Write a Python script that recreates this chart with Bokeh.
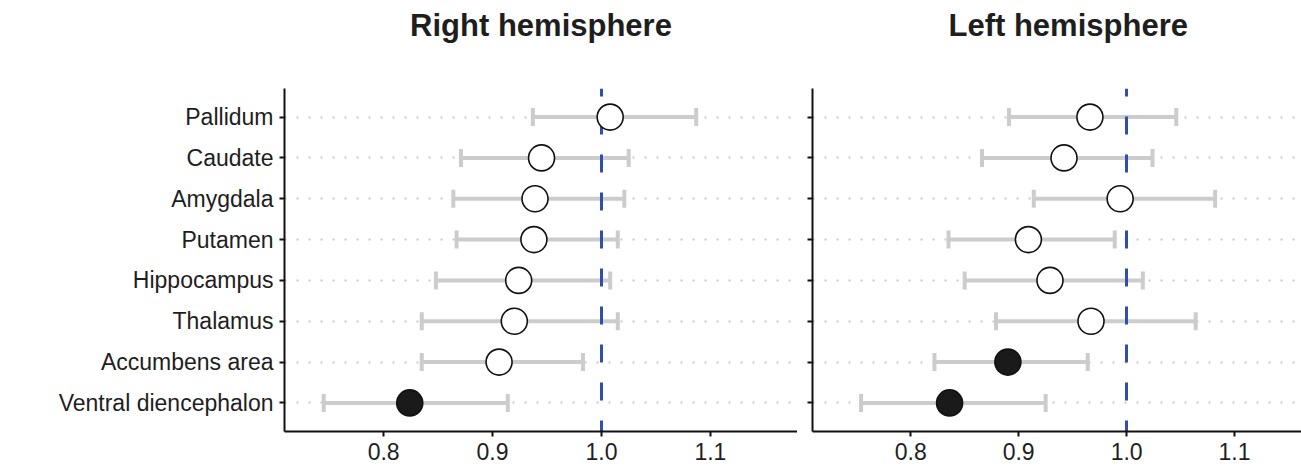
from bokeh.plotting import figure
from bokeh.layouts import row
from bokeh.models import (ColumnDataSource, FactorRange, Range1d, FixedTicker,
                          LinearAxis)
from bokeh.embed import file_html
from bokeh.resources import INLINE

regions = ["Pallidum", "Caudate", "Amygdala", "Putamen", "Hippocampus",
           "Thalamus", "Accumbens area", "Ventral diencephalon"]

right_est = [1.008, 0.945, 0.939, 0.938, 0.924, 0.920, 0.906, 0.824]
right_lo = [0.937, 0.871, 0.864, 0.867, 0.848, 0.835, 0.835, 0.745]
right_hi = [1.087, 1.025, 1.021, 1.015, 1.008, 1.015, 0.983, 0.914]
right_sig = [False, False, False, False, False, False, False, True]

left_est = [0.966, 0.942, 0.994, 0.909, 0.929, 0.967, 0.890, 0.836]
left_lo = [0.891, 0.866, 0.914, 0.835, 0.850, 0.879, 0.822, 0.754]
left_hi = [1.046, 1.024, 1.082, 0.989, 1.015, 1.064, 0.964, 0.925]
left_sig = [False, False, False, False, False, False, True, True]

x_ticks = [0.8, 0.9, 1.0, 1.1]
x_tick_labels = ["0.8", "0.9", "1.0", "1.1"]
reference_value = 1.0

titles = ["Right hemisphere", "Left hemisphere"]

FONT = "Liberation Sans"
TEXT = "#1e1e1e"
GREY = "#cccccc"
BLUE = "#2e4fae"


def make_panel(title, est, lo, hi, sig, width, x_end, border_left, show_labels):
    src = ColumnDataSource(dict(
        region=regions, est=est, lo=lo, hi=hi,
        fill=["#1a1a1a" if s else "white" for s in sig],
    ))
    yr = FactorRange(factors=list(reversed(regions)),
                     range_padding=0.2, range_padding_units="absolute")
    p = figure(width=width, height=467, y_range=yr,
               x_range=Range1d(0.709, x_end),
               output_backend="svg", toolbar_location=None,
               min_border_left=border_left, min_border_right=0,
               min_border_top=88, min_border_bottom=36)
    p.outline_line_color = None
    p.background_fill_color = "white"
    p.border_fill_color = "white"

    xa = p.below[0]
    ya = p.left[0]
    for ax in (xa, ya):
        ax.axis_line_color = "#111111"
        ax.axis_line_width = 2
        ax.major_tick_line_color = "#111111"
        ax.major_tick_line_width = 2
        ax.major_tick_in = 0
        ax.major_tick_out = 5
        ax.minor_tick_line_color = None
        ax.major_label_text_font = FONT
        ax.major_label_text_color = TEXT

    xa.ticker = FixedTicker(ticks=x_ticks)
    xa.major_label_overrides = {t: l for t, l in zip(x_ticks, x_tick_labels)}
    xa.major_label_text_font_size = "23px"
    xa.major_label_standoff = 6
    if show_labels:
        ya.major_label_text_font_size = "23px"
        ya.major_label_standoff = 6
    else:
        ya.major_label_text_font_size = "1px"
        ya.major_label_text_color = None
        ya.major_label_standoff = 0

    # invisible spacer between the title and the plotting area
    spacer = LinearAxis(ticker=FixedTicker(ticks=[reference_value]))
    spacer.axis_line_color = None
    spacer.major_tick_line_color = None
    spacer.minor_tick_line_color = None
    spacer.major_tick_out = 41
    spacer.major_tick_in = 0
    spacer.minor_tick_out = 0
    spacer.major_label_text_font_size = "1px"
    spacer.major_label_text_color = None
    spacer.major_label_standoff = 0
    p.add_layout(spacer, "above")

    p.title.text = title
    p.title.text_font = FONT
    p.title.text_font_size = "31px"
    p.title.text_font_style = "bold"
    p.title.text_color = TEXT
    p.title.standoff = 10

    p.xgrid.grid_line_color = None
    p.ygrid.grid_line_color = "#c8c8c8"
    p.ygrid.grid_line_width = 2
    p.ygrid.grid_line_dash = "2 10"

    # error bars
    p.segment(x0="lo", y0="region", x1="hi", y1="region", source=src,
              line_color=GREY, line_width=4)
    p.scatter(x="lo", y="region", source=src, marker="dash", size=18,
              angle=1.5708, line_color=GREY, line_width=4)
    p.scatter(x="hi", y="region", source=src, marker="dash", size=18,
              angle=1.5708, line_color=GREY, line_width=4)
    # reference line
    p.vspan(x=[reference_value], line_color=BLUE, line_width=3,
            line_dash="18 20", line_dash_offset=10)
    # estimates
    p.scatter(x="est", y="region", source=src, size=26,
              fill_color="fill", line_color="#111111", line_width=1.6)
    return p


p1 = make_panel(titles[0], right_est, right_lo, right_hi, right_sig,
                797, 1.180, 284, True)
p1.title.align = "center"

p2 = make_panel(titles[1], left_est, left_lo, left_hi, left_sig,
                504, 1.162, 15, False)
p2.title.align = "left"
p2.title.offset = 136

layout = row(p1, p2)
open("out.html", "w").write(file_html(layout, INLINE))
